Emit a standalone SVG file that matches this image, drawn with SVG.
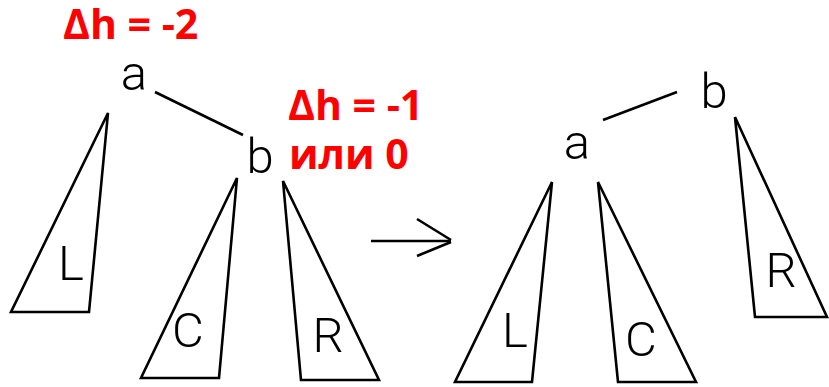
<svg xmlns="http://www.w3.org/2000/svg" width="829" height="387" viewBox="0 0 829 387">
<style>
.tri{fill:none;stroke:#000;stroke-width:2.6;stroke-linejoin:miter}
.lbl{font-family:Roboto,"Liberation Sans",sans-serif;font-weight:300;font-size:49px;fill:#000;text-anchor:middle}
.red{font-family:"Open Sans","Noto Sans",sans-serif;font-weight:bold;font-size:41px;fill:#ff0000}
.con{fill:none;stroke:#000;stroke-width:2.6}
</style>
<rect width="829" height="387" fill="#fff"/>
<g id="annotations">
<text class="red" x="63" y="39">Δh = -2</text>
<text class="red" x="288" y="120">Δh = -1</text>
<text class="red" x="289" y="169">или 0</text>
</g>
<g id="connectors">
<line class="con" x1="155" y1="92" x2="243" y2="135"/>
<line class="con" x1="603" y1="120" x2="677" y2="92"/>
<line class="con" x1="371" y1="241" x2="451" y2="241"/>
<line class="con" x1="417" y1="219" x2="451" y2="240"/>
<line class="con" x1="417" y1="256" x2="451" y2="242"/>
</g>
<g id="before">
<g id="node-a1"><text class="lbl" x="134" y="90">a</text></g>
<g id="node-b1"><text class="lbl" x="260" y="173">b</text></g>
<g id="tree-L1"><polygon class="tri" points="108,113 89,312 11,312"/><text class="lbl" x="71" y="280">L</text></g>
<g id="tree-C1"><polygon class="tri" points="237,178 219,378 141,378"/><text class="lbl" x="188" y="347">C</text></g>
<g id="tree-R1"><polygon class="tri" points="283,181 301,380 379,380"/><text class="lbl" x="328" y="352">R</text></g>
</g>
<g id="after">
<g id="node-b2"><text class="lbl" x="714" y="108">b</text></g>
<g id="node-a2"><text class="lbl" x="577" y="159">a</text></g>
<g id="tree-L2"><polygon class="tri" points="552,182 532,382 455,382"/><text class="lbl" x="515" y="347">L</text></g>
<g id="tree-C2"><polygon class="tri" points="598,182 618,382 696,382"/><text class="lbl" x="641" y="356">C</text></g>
<g id="tree-R2"><polygon class="tri" points="735,117 755,317 827,317"/><text class="lbl" x="781" y="287">R</text></g>
</g>
</svg>
